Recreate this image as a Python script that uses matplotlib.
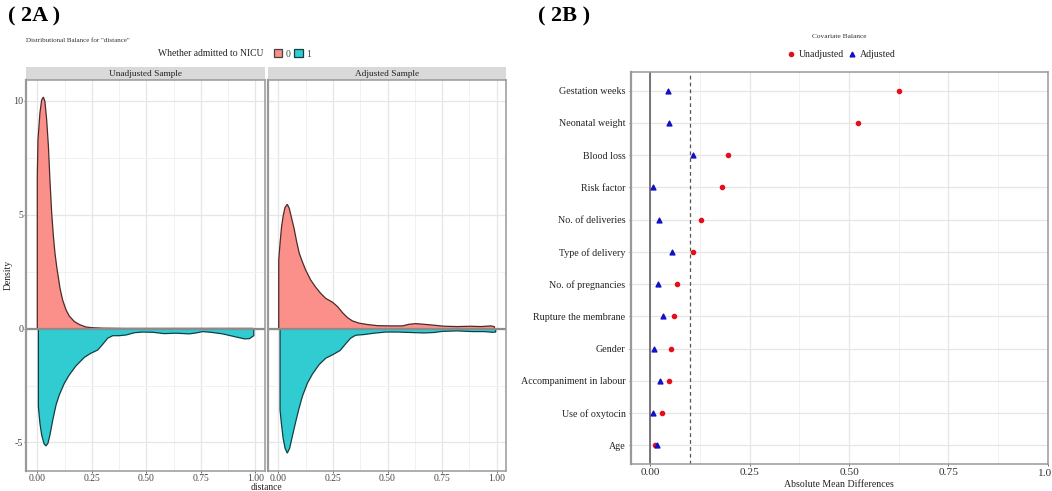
import matplotlib
matplotlib.use("Agg")
import matplotlib.pyplot as plt
from matplotlib.patches import Rectangle
from matplotlib.lines import Line2D

plt.rcParams['font.family'] = ['Liberation Serif', 'DejaVu Serif']

W, H = 1052, 491

unadj0_x = [0.000, 0.000, 0.003, 0.012, 0.020, 0.028, 0.035, 0.043, 0.051, 0.058, 0.066, 0.074, 0.081, 0.089, 0.097,
            0.104, 0.116, 0.132, 0.147, 0.170, 0.193, 0.223, 0.254, 0.300, 0.400, 0.600, 0.800, 0.990, 0.990]
unadj0_y = [0.00, 6.68, 8.29, 9.47, 10.04, 10.17, 9.97, 9.17, 8.00, 6.53, 5.07, 4.04, 3.32, 2.72, 2.22,
            1.78, 1.26, 0.82, 0.55, 0.31, 0.18, 0.07, 0.04, 0.02, 0.01, 0.01, 0.01, 0.01, 0.00]
unadj1_x = [0.005, 0.005, 0.012, 0.020, 0.031, 0.040, 0.049, 0.058, 0.071, 0.086, 0.101, 0.124, 0.147, 0.177, 0.216,
            0.246, 0.277, 0.300, 0.323, 0.346, 0.376, 0.407, 0.445, 0.483, 0.529, 0.583, 0.636, 0.697, 0.728, 0.759,
            0.804, 0.850, 0.904, 0.950, 0.973, 0.993, 0.993]
unadj1_y = [0.00, 3.43, 4.15, 4.67, 5.06, 5.15, 5.03, 4.67, 4.01, 3.35, 2.91, 2.40, 2.03, 1.64, 1.26,
            1.08, 0.94, 0.69, 0.42, 0.31, 0.31, 0.28, 0.18, 0.15, 0.16, 0.22, 0.20, 0.23, 0.19, 0.13,
            0.17, 0.23, 0.35, 0.45, 0.44, 0.31, 0.00]
adj0_x = [0.002, 0.002, 0.008, 0.015, 0.023, 0.031, 0.041, 0.050, 0.061, 0.072, 0.084, 0.096, 0.110, 0.125, 0.148,
          0.171, 0.194, 0.217, 0.248, 0.271, 0.294, 0.317, 0.339, 0.370, 0.408, 0.454, 0.514, 0.568, 0.598, 0.629,
          0.667, 0.713, 0.759, 0.820, 0.881, 0.927, 0.973, 0.988, 0.991]
adj0_y = [0.00, 3.02, 3.75, 4.48, 4.99, 5.33, 5.46, 5.29, 4.85, 4.41, 3.82, 3.31, 2.94, 2.58, 2.14,
          1.82, 1.55, 1.33, 1.16, 0.97, 0.70, 0.48, 0.34, 0.24, 0.18, 0.13, 0.12, 0.12, 0.19, 0.22,
          0.19, 0.15, 0.105, 0.09, 0.105, 0.09, 0.12, 0.09, 0.00]
adj1_x = [0.008, 0.008, 0.014, 0.022, 0.031, 0.041, 0.052, 0.064, 0.080, 0.095, 0.110, 0.133, 0.156, 0.186, 0.217,
          0.248, 0.283, 0.308, 0.331, 0.354, 0.392, 0.438, 0.491, 0.545, 0.606, 0.667, 0.713, 0.751, 0.820, 0.889,
          0.942, 0.980, 0.995, 0.995]
adj1_y = [0.00, 3.57, 4.15, 4.81, 5.25, 5.47, 5.25, 4.74, 4.08, 3.50, 2.98, 2.40, 2.00, 1.59, 1.30,
          1.15, 0.96, 0.67, 0.42, 0.29, 0.26, 0.20, 0.15, 0.15, 0.17, 0.19, 0.17, 0.12, 0.10, 0.13,
          0.13, 0.16, 0.15, 0.00]

# panel 2B, top row first
covariates = ['Gestation weeks', 'Neonatal weight', 'Blood loss', 'Risk factor', 'No. of deliveries',
              'Type of delivery', 'No. of pregnancies', 'Rupture the membrane', 'Gender',
              'Accompaniment in labour', 'Use of oxytocin', 'Age']
unadjusted = [0.626, 0.522, 0.195, 0.181, 0.127, 0.107, 0.067, 0.060, 0.052, 0.048, 0.030, 0.013]
adjusted = [0.045, 0.047, 0.107, 0.006, 0.023, 0.055, 0.020, 0.033, 0.010, 0.024, 0.008, 0.018]

dist_ticks = [0, 0.25, 0.5, 0.75, 1.0]
dist_labels = ['0.00', '0.25', '0.50', '0.75', '1.00']

SALMON = '#fb8f89'
TEAL = '#31ccd1'
BORDER = '#999999'
GRID = '#e6e6e6'
GRID2 = '#f1f1f1'


def px_axes(left, top, right, bottom):
    return fig.add_axes([left / W, 1 - bottom / H, (right - left) / W, (bottom - top) / H])


def style(ax):
    ax.set_axisbelow(True)
    ax.grid(which='major', color=GRID, lw=0.9)
    ax.grid(which='minor', color=GRID2, lw=0.7)
    for s in ax.spines.values():
        s.set_color(BORDER)
        s.set_linewidth(1.1)
    ax.spines['left'].set_linewidth(1.6)
    ax.tick_params(which='minor', length=0)
    ax.tick_params(which='major', length=1.5, width=0.6, color='#555555', pad=0.8, labelcolor='#444444')


def density_panel(ax, x0, y0, x1, y1, title, xlim):
    style(ax)
    ax.fill(x0, y0, facecolor=SALMON, edgecolor='#4d2b2b', lw=0.9)
    ax.fill(x1, [-v for v in y1], facecolor=TEAL, edgecolor='#123f42', lw=0.9)
    ax.axhline(0, color='#8c8c8c', lw=1.6)
    ax.set_xlim(xlim)
    ax.set_ylim(-6.24, 10.92)
    ax.set_xticks(dist_ticks)
    ax.set_xticklabels(dist_labels, fontsize=6.9)
    ax.set_xticks([0.125, 0.375, 0.625, 0.875], minor=True)
    ax.set_yticks([-5, 0, 5, 10])
    ax.set_yticks([-2.5, 2.5, 7.5], minor=True)
    # grey strip above the panel
    ax.add_patch(Rectangle((0, 1), 1, 0.032, transform=ax.transAxes, facecolor='#d9d9d9', edgecolor='none',
                           clip_on=False))
    ax.text(0.5, 1.016, title, transform=ax.transAxes, ha='center', va='center', fontsize=6.7, color='#222222')


fig = plt.figure(figsize=(W / 100, H / 100), dpi=100)

ax1 = px_axes(26.4, 80, 264.7, 470.7)
ax2 = px_axes(267.7, 80, 506.4, 470.7)
density_panel(ax1, unadj0_x, unadj0_y, unadj1_x, unadj1_y, 'Unadjusted Sample', (-0.05, 1.043))
density_panel(ax2, adj0_x, adj0_y, adj1_x, adj1_y, 'Adjusted Sample', (-0.0485, 1.044))
ax1.set_yticklabels(['-5', '0', '5', '10'], fontsize=7.2)
ax2.tick_params(axis='y', which='major', length=0, labelleft=False)
fig.text(8.5 / W, 1 - 275 / H, 'Density', fontsize=6.9, rotation=90, ha='center', va='center', color='#222222')
fig.text(266 / W, 1 - 487 / H, 'distance', ha='center', va='center', fontsize=6.9, color='#222222')

fig.text(26 / W, 1 - 40 / H, 'Distributional Balance for "distance"', fontsize=5.0, va='center', color='#333333')
fig.text(263 / W, 1 - 54 / H, 'Whether admitted to NICU', fontsize=6.9, ha='right', va='center', color='#222222')
fig.legend(handles=[Rectangle((0, 0), 1, 1, facecolor=SALMON, edgecolor='#444444', lw=0.9, label='0'),
                    Rectangle((0, 0), 1, 1, facecolor=TEAL, edgecolor='#123f42', lw=0.9, label='1')],
           ncol=2, loc='center left', bbox_to_anchor=(268.8 / W, 1 - 54 / H), frameon=False, fontsize=7.0,
           handlelength=0.9, handleheight=0.9, handletextpad=0.35, columnspacing=0.35, borderpad=0,
           labelcolor='#444444')

ax3 = px_axes(631, 71.7, 1047.7, 464)
style(ax3)
ypos = list(range(len(covariates) - 1, -1, -1))
ax3.axvline(0, color='#555555', lw=1.1, zorder=2)
ax3.axvline(0.1, color='#555555', lw=0.9, ls=(0, (3, 2.5)), zorder=2)
ax3.scatter(unadjusted, ypos, s=9, color='#e3101c', marker='o', zorder=3)
ax3.scatter(adjusted, ypos, s=12, color='#1010c8', marker='^', zorder=4)
ax3.set_xlim(-0.0486, 1.0)
ax3.set_ylim(-0.58, 11.59)
ax3.set_xticks(dist_ticks)
# the last label only shows as "1.0" at the image edge, so it is placed by hand below
ax3.set_xticklabels(dist_labels[:-1] + [''], fontsize=8.2, color='#333333')
ax3.set_xticks([0.125, 0.375, 0.625, 0.875], minor=True)
ax3.set_yticks(ypos)
ax3.set_yticklabels(covariates, fontsize=7.2, color='#222222')
ax3.tick_params(axis='y', which='major', pad=2.4)
ax3.tick_params(axis='x', which='major', pad=1.5)
ax3.set_xlabel('Absolute Mean Differences', fontsize=7.1, labelpad=2, color='#222222')
fig.text(1051.5 / W, 1 - 473.5 / H, '1.0', fontsize=8.2, ha='right', va='center', color='#333333')

fig.text(839 / W, 1 - 36.5 / H, 'Covariate Balance', fontsize=5.3, ha='center', va='center', color='#333333')
fig.legend(handles=[Line2D([], [], ls='none', marker='o', ms=3.0, color='#e3101c', label='Unadjusted'),
                    Line2D([], [], ls='none', marker='^', ms=3.4, color='#1010c8', label='Adjusted')],
           ncol=2, loc='center', bbox_to_anchor=(841 / W, 1 - 54.5 / H), frameon=False, fontsize=7.1,
           handlelength=0.9, handletextpad=0.4, columnspacing=0.3, borderpad=0, labelcolor='#222222')

fig.text(8 / W, 1 - 16 / H, '( 2A )', fontsize=16, fontweight='bold', va='center')
fig.text(538 / W, 1 - 16 / H, '( 2B )', fontsize=16, fontweight='bold', va='center')

fig.savefig('out.png', dpi=100)
